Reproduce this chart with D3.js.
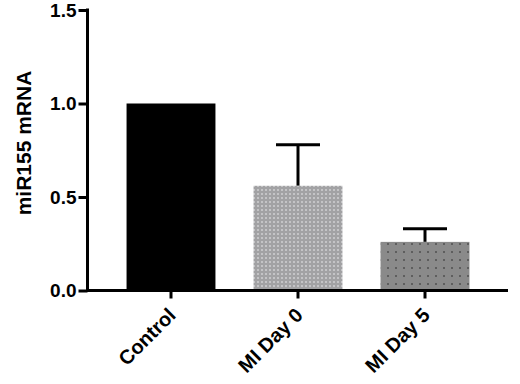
<!DOCTYPE html>
<html>
<head>
<meta charset="utf-8">
<script src="https://cdn.jsdelivr.net/npm/d3@7"></script>
<style>
  body { margin: 0; background: #fff; }
  text { font-family: "Liberation Sans", Arial, sans-serif; font-weight: bold; fill: #000; }
</style>
</head>
<body>
<svg id="vis"></svg>
<script>
// size of the picture
const width = 520;
const height = 384;

// values
const groups = ["Control", "MI Day 0", "MI Day 5"];
const means = [1.0, 0.56, 0.26];
const errors = [0, 0.22, 0.07];
const yTicks = [0.0, 0.5, 1.0, 1.5];

// pixel positions
const axisX = 87.5;
const axisEnd = 508;
const yTop = 10;
const yBottom = 290.5;

const xScale = d3.scaleBand()
    .domain(groups)
    .range([107.5, 488.5])
    .paddingInner(0.3)
    .paddingOuter(0.15);

const yScale = d3.scaleLinear()
    .domain([0, 1.5])
    .range([yBottom, yTop]);

const svg = d3.select("#vis")
    .attr("width", width)
    .attr("height", height);

// dotted fills for the two gray bars
const defs = svg.append("defs");
const p0 = defs.append("pattern").attr("id", "dots0")
    .attr("patternUnits", "userSpaceOnUse").attr("width", 4).attr("height", 4);
p0.append("rect").attr("width", 4).attr("height", 4).attr("fill", "#a2a2a4");
p0.append("rect").attr("x", 1).attr("y", 1).attr("width", 2).attr("height", 2).attr("fill", "#c4c4c6");

const p1 = defs.append("pattern").attr("id", "dots1")
    .attr("patternUnits", "userSpaceOnUse").attr("width", 8).attr("height", 8);
p1.append("rect").attr("width", 8).attr("height", 8).attr("fill", "#8a8a8a");
p1.append("rect").attr("x", 3).attr("y", 3).attr("width", 2).attr("height", 2).attr("fill", "#5e5e5e");

const fills = ["#000", "url(#dots0)", "url(#dots1)"];

// error bars (upper only), drawn first so the bar covers the stem base
groups.forEach((g, i) => {
    if (errors[i] <= 0) return;
    const cx = xScale(g) + xScale.bandwidth() / 2;
    const top = yScale(means[i] + errors[i]);
    svg.append("line")
        .attr("x1", cx).attr("x2", cx)
        .attr("y1", yScale(means[i])).attr("y2", top)
        .attr("stroke", "#000").attr("stroke-width", 3);
    svg.append("line")
        .attr("x1", cx - 22).attr("x2", cx + 22)
        .attr("y1", top).attr("y2", top)
        .attr("stroke", "#000").attr("stroke-width", 3);
});

// bars
svg.selectAll("rect.bar")
    .data(groups)
    .join("rect")
    .attr("class", "bar")
    .attr("x", d => xScale(d))
    .attr("width", xScale.bandwidth())
    .attr("y", (d, i) => yScale(means[i]))
    .attr("height", (d, i) => yBottom - yScale(means[i]))
    .attr("fill", (d, i) => fills[i]);

// y axis
const yAxis = d3.axisLeft(yScale)
    .tickValues(yTicks)
    .tickFormat(d3.format(".1f"))
    .tickSize(9)
    .tickSizeOuter(0)
    .tickPadding(2);

const gy = svg.append("g")
    .attr("transform", "translate(" + axisX + ",0)")
    .call(yAxis);
gy.select(".domain").style("stroke-width", "3px").attr("d", "M0," + (yTop - 1.5) + "V" + yBottom);
gy.selectAll(".tick line").style("stroke-width", "3px");
gy.selectAll(".tick text")
    .attr("font-size", 19)
    .attr("font-family", "Liberation Sans, Arial, sans-serif")
    .attr("font-weight", "bold");

// x axis line
svg.append("line")
    .attr("x1", axisX - 1.5).attr("x2", axisEnd)
    .attr("y1", yBottom).attr("y2", yBottom)
    .attr("stroke", "#000").attr("stroke-width", 3);

// x ticks and rotated labels
const gx = svg.append("g");
groups.forEach(g => {
    const cx = xScale(g) + xScale.bandwidth() / 2;
    gx.append("line")
        .attr("x1", cx).attr("x2", cx)
        .attr("y1", yBottom).attr("y2", yBottom + 8)
        .attr("stroke", "#000").attr("stroke-width", 3);
    gx.append("text")
        .attr("transform", "translate(" + (cx + 6) + "," + (yBottom + 26) + ") rotate(-45)")
        .attr("text-anchor", "end")
        .attr("font-size", 20)
        .text(g);
});

// y axis label
svg.append("text")
    .attr("transform", "translate(31,143) rotate(-90)")
    .attr("text-anchor", "middle")
    .attr("font-size", 21)
    .text("miR155 mRNA");
</script>
</body>
</html>
